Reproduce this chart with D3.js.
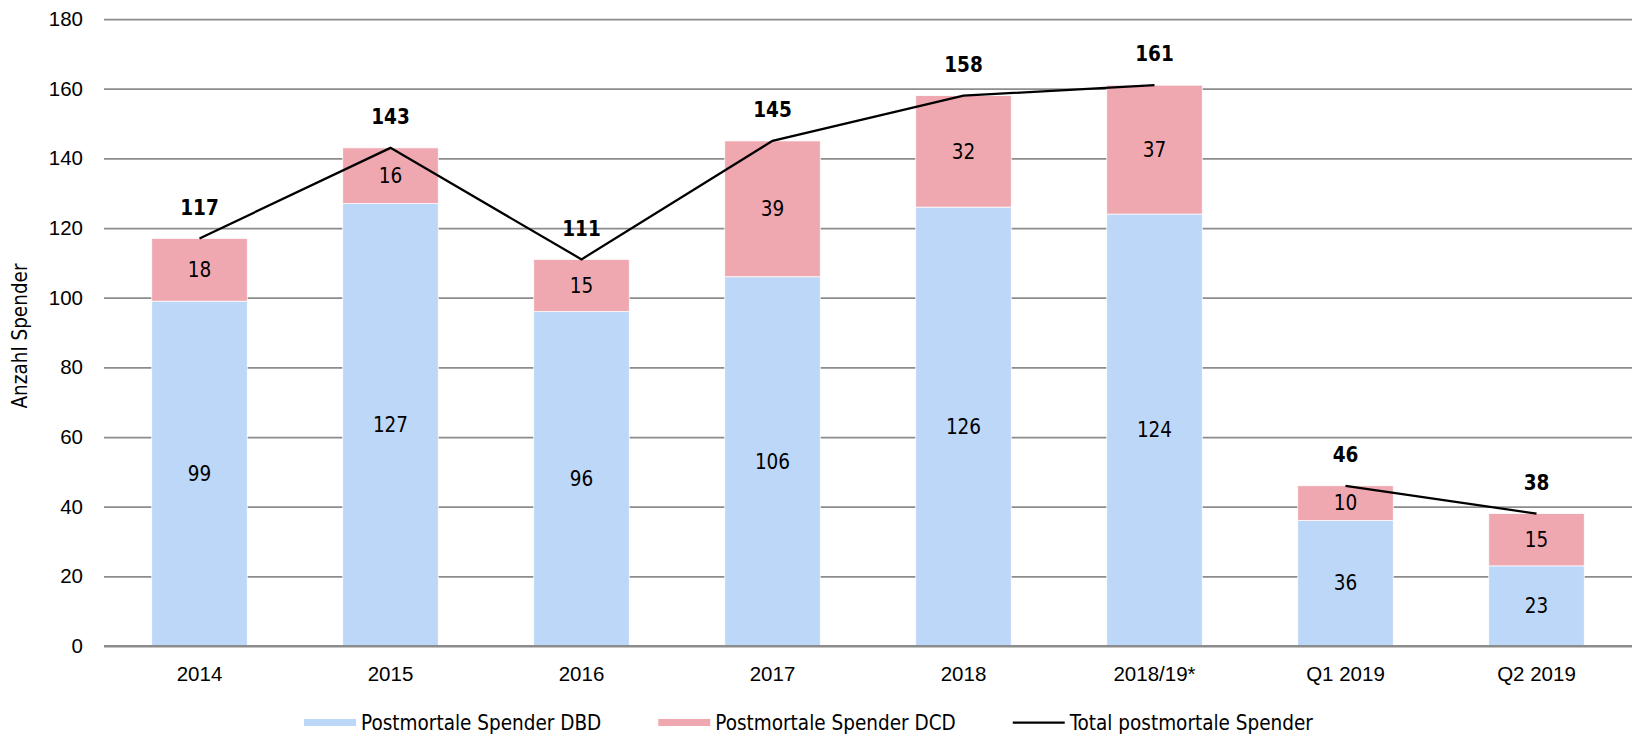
<!DOCTYPE html>
<html>
<head>
<meta charset="utf-8">
<script src="https://cdn.jsdelivr.net/npm/d3@7"></script>
<style>
  html, body { margin: 0; padding: 0; background: #fff; }
  svg { display: block; font-family: "DejaVu Sans Condensed", "DejaVu Sans", sans-serif; }
</style>
</head>
<body>
<svg id="chart" width="1632" height="737"></svg>
<script>
// Chart data
const categories = ['2014', '2015', '2016', '2017', '2018', '2018/19*', 'Q1 2019', 'Q2 2019'];
const spenderDBD = [99, 127, 96, 106, 126, 124, 36, 23];
const spenderDCD = [18, 16, 15, 39, 32, 37, 10, 15];
const totalSpender = [117, 143, 111, 145, 158, 161, 46, 38];
const yTicks = [0, 20, 40, 60, 80, 100, 120, 140, 160, 180];
const seriesNames = ['Postmortale Spender DBD', 'Postmortale Spender DCD', 'Total postmortale Spender'];

const colors = { dbd: '#bdd7f9', dcd: '#efa8b0', total: '#000000', grid: '#8c8c8c' };
const fontSize = 20.5;

const svg = d3.select('#chart');

const x = d3.scaleBand()
    .domain(categories)
    .range([104, 1632])
    .paddingInner(0.5)
    .paddingOuter(0.25);

const y = d3.scaleLinear()
    .domain([0, 180])
    .range([646, 19]);

// Gridlines + y tick labels
const yAxis = svg.append('g')
    .attr('class', 'y-axis')
    .attr('transform', 'translate(104,0)')
    .call(d3.axisLeft(y).tickValues(yTicks).tickSize(-(1632 - 104)).tickPadding(21));
yAxis.select('.domain').remove();
yAxis.selectAll('.tick line')
    .attr('stroke', colors.grid)
    .attr('stroke-width', 1.75);
yAxis.selectAll('.tick text')
    .style('font-size', fontSize + 'px')
    .attr('fill', '#000');

// Stacked bars
const rows = categories.map((c, i) => ({ cat: c, dbd: spenderDBD[i], dcd: spenderDCD[i] }));
const stacked = d3.stack().keys(['dbd', 'dcd'])(rows);

const layers = svg.append('g').attr('class', 'bars')
    .selectAll('g')
    .data(stacked)
    .enter()
    .append('g')
    .attr('fill', d => colors[d.key]);

layers.selectAll('rect')
    .data(d => d)
    .enter()
    .append('rect')
    .attr('x', d => x(d.data.cat))
    .attr('width', x.bandwidth())
    .attr('y', d => y(d[1]))
    .attr('height', d => y(d[0]) - y(d[1]))
    .attr('stroke', '#fff')
    .attr('stroke-width', 0.75);

// Segment value labels
layers.selectAll('text')
    .data(d => d)
    .enter()
    .append('text')
    .attr('x', d => x(d.data.cat) + x.bandwidth() / 2)
    .attr('y', d => (y(d[0]) + y(d[1])) / 2)
    .attr('dy', '0.35em')
    .attr('text-anchor', 'middle')
    .attr('fill', '#000')
    .style('font-size', fontSize + 'px')
    .text(d => d[1] - d[0]);

// Zero baseline over the bars
svg.append('line')
    .attr('x1', 104).attr('x2', 1632)
    .attr('y1', y(0)).attr('y2', y(0))
    .attr('stroke', colors.grid)
    .attr('stroke-width', 2);

// Total line, broken between full years and quarters
const points = categories.map((c, i) => ({ cat: c, value: totalSpender[i], quarter: c.startsWith('Q') }));
const line = d3.line()
    .x(d => x(d.cat) + x.bandwidth() / 2)
    .y(d => y(d.value));

svg.append('g').attr('class', 'total-line')
    .selectAll('path')
    .data(Array.from(d3.group(points, d => d.quarter).values()))
    .enter()
    .append('path')
    .attr('d', line)
    .attr('fill', 'none')
    .attr('stroke', colors.total)
    .attr('stroke-width', 2.25);

// Total labels
svg.append('g').attr('class', 'total-labels')
    .selectAll('text')
    .data(points)
    .enter()
    .append('text')
    .attr('x', d => x(d.cat) + x.bandwidth() / 2)
    .attr('y', d => y(d.value) - 31)
    .attr('dy', '0.35em')
    .attr('text-anchor', 'middle')
    .attr('font-weight', 'bold')
    .style('font-size', fontSize + 'px')
    .text(d => d.value);

// X axis labels
const xAxis = svg.append('g')
    .attr('transform', `translate(0,${y(0)})`)
    .call(d3.axisBottom(x).tickSize(0).tickPadding(20));
xAxis.select('.domain').remove();
xAxis.selectAll('.tick text')
    .style('font-size', fontSize + 'px')
    .attr('fill', '#000');

// Y axis title
svg.append('text')
    .attr('transform', `translate(20,336) rotate(-90)`)
    .attr('text-anchor', 'middle')
    .attr('dy', '0.35em')
    .style('font-size', fontSize + 'px')
    .text('Anzahl Spender');

// Legend
const legendItems = [
    { label: seriesNames[0], color: colors.dbd, type: 'rect' },
    { label: seriesNames[1], color: colors.dcd, type: 'rect' },
    { label: seriesNames[2], color: colors.total, type: 'line' }
];
const swatchW = 52, swatchGap = 5, itemGap = 57, legendY = 722.5;

const legend = svg.append('g').attr('class', 'legend');
let cursor = 0;
legendItems.forEach(d => {
    const item = legend.append('g').attr('transform', `translate(${cursor},0)`);
    if (d.type === 'line') {
        item.append('line')
            .attr('x1', 0).attr('x2', swatchW)
            .attr('y1', legendY).attr('y2', legendY)
            .attr('stroke', d.color)
            .attr('stroke-width', 2.25);
    } else {
        item.append('rect')
            .attr('y', legendY - 3.5)
            .attr('width', swatchW)
            .attr('height', 7)
            .attr('fill', d.color);
    }
    const t = item.append('text')
        .attr('x', swatchW + swatchGap)
        .attr('y', legendY)
        .attr('dy', '0.35em')
        .style('font-size', fontSize + 'px')
        .text(d.label);
    cursor += swatchW + swatchGap + t.node().getComputedTextLength() + itemGap;
});
const legendWidth = cursor - itemGap;
legend.attr('transform', `translate(${808.5 - legendWidth / 2},0)`);
</script>
</body>
</html>
